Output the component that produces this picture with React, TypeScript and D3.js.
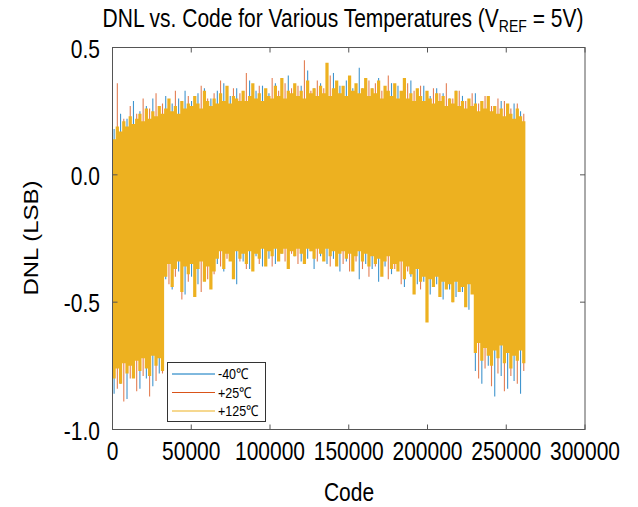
import React from "react";
import * as d3 from "d3";

// ---- data (DNL envelopes, LSB) ----
const CODE_MAX = 262143;
const yellowStep = 2048; // +125°C sampled every 2048 codes
const yellowHi = [
  0.14, 0.19, 0.17, 0.21, 0.19, 0.23, 0.20, 0.22,
  0.24, 0.21, 0.26, 0.22, 0.25, 0.23, 0.27, 0.24,
  0.26, 0.30, 0.25, 0.27, 0.24, 0.29, 0.26, 0.28,
  0.27, 0.31, 0.28, 0.26, 0.33, 0.29, 0.27, 0.30,
  0.28, 0.32, 0.29, 0.35, 0.28, 0.31, 0.30, 0.29,
  0.33, 0.29, 0.31, 0.36, 0.30, 0.32, 0.29, 0.34,
  0.31, 0.30, 0.35, 0.31, 0.38, 0.30, 0.33, 0.32,
  0.36, 0.31, 0.33, 0.30, 0.37, 0.32, 0.34, 0.31,
  0.35, 0.32, 0.44, 0.31, 0.34, 0.37, 0.32, 0.35,
  0.31, 0.39, 0.33, 0.36, 0.32, 0.34, 0.38, 0.31,
  0.34, 0.32, 0.37, 0.30, 0.35, 0.33, 0.31, 0.36,
  0.30, 0.33, 0.38, 0.30, 0.32, 0.29, 0.34, 0.31,
  0.29, 0.33, 0.30, 0.28, 0.32, 0.29, 0.31, 0.27,
  0.30, 0.28, 0.33, 0.27, 0.29, 0.26, 0.30, 0.27,
  0.28, 0.25, 0.29, 0.26, 0.31, 0.25, 0.27, 0.24,
  0.26, 0.23, 0.28, 0.24, 0.22, 0.26, 0.23, 0.21,
  0.22,
];
const yellowLo = [
  -0.80, -0.76, -0.82, -0.74, -0.78, -0.75, -0.80, -0.73,
  -0.77, -0.72, -0.76, -0.79, -0.71, -0.75, -0.72, -0.77,
  -0.40, -0.35, -0.44, -0.37, -0.34, -0.46, -0.36, -0.39,
  -0.35, -0.48, -0.37, -0.34, -0.42, -0.36, -0.45, -0.38,
  -0.33, -0.30, -0.37, -0.31, -0.34, -0.41, -0.30, -0.33,
  -0.31, -0.35, -0.30, -0.38, -0.31, -0.33, -0.29, -0.36,
  -0.30, -0.32, -0.29, -0.34, -0.31, -0.29, -0.37, -0.30,
  -0.32, -0.29, -0.31, -0.35, -0.29, -0.30, -0.33, -0.29,
  -0.31, -0.34, -0.29, -0.32, -0.30, -0.36, -0.31, -0.30,
  -0.33, -0.31, -0.38, -0.32, -0.30, -0.34, -0.31, -0.36,
  -0.32, -0.35, -0.33, -0.40, -0.34, -0.32, -0.37, -0.35,
  -0.38, -0.34, -0.41, -0.36, -0.39, -0.47, -0.37, -0.42,
  -0.40, -0.58, -0.41, -0.44, -0.40, -0.48, -0.42, -0.45,
  -0.43, -0.50, -0.42, -0.46, -0.44, -0.52, -0.43, -0.47,
  -0.70, -0.66, -0.73, -0.68, -0.71, -0.75, -0.69, -0.72,
  -0.67, -0.74, -0.70, -0.76, -0.71, -0.73, -0.69, -0.74,
  -0.72,
];
const otherStep = 4096; // -40°C and +25°C spikes sampled every 4096 codes
const blueOffset = 1024;
const orangeOffset = 3072;
const blueHi = [
  0.18, 0.24, 0.22, 0.29, 0.25, 0.27, 0.30, 0.26,
  0.31, 0.28, 0.30, 0.33, 0.29, 0.32, 0.34, 0.30,
  0.33, 0.36, 0.31, 0.34, 0.32, 0.37, 0.33, 0.35,
  0.32, 0.36, 0.34, 0.39, 0.33, 0.35, 0.41, 0.34,
  0.36, 0.33, 0.40, 0.35, 0.37, 0.34, 0.42, 0.36,
  0.34, 0.38, 0.33, 0.36, 0.35, 0.32, 0.37, 0.33,
  0.35, 0.31, 0.34, 0.32, 0.30, 0.33, 0.31, 0.29,
  0.32, 0.28, 0.30, 0.27, 0.29, 0.26, 0.28, 0.25,
];
const blueLo = [
  -0.86, -0.82, -0.88, -0.79, -0.84, -0.80, -0.83, -0.78,
  -0.41, -0.45, -0.38, -0.47, -0.40, -0.43, -0.39, -0.44,
  -0.35, -0.38, -0.33, -0.43, -0.34, -0.37, -0.32, -0.36,
  -0.33, -0.35, -0.31, -0.36, -0.32, -0.34, -0.33, -0.37,
  -0.32, -0.35, -0.33, -0.38, -0.34, -0.36, -0.41, -0.35,
  -0.37, -0.42, -0.36, -0.39, -0.37, -0.44, -0.40, -0.43,
  -0.42, -0.47, -0.43, -0.49, -0.45, -0.48, -0.46, -0.53,
  -0.77, -0.82, -0.75, -0.87, -0.79, -0.84, -0.81, -0.86,
];
const orangeHi = [
  0.36, 0.22, 0.27, 0.24, 0.30, 0.26, 0.32, 0.28,
  0.27, 0.33, 0.29, 0.31, 0.28, 0.35, 0.30, 0.32,
  0.37, 0.31, 0.34, 0.32, 0.40, 0.33, 0.35, 0.32,
  0.38, 0.33, 0.36, 0.34, 0.35, 0.45, 0.33, 0.37,
  0.34, 0.39, 0.35, 0.33, 0.38, 0.35, 0.34, 0.37,
  0.36, 0.33, 0.39, 0.34, 0.32, 0.36, 0.33, 0.35,
  0.31, 0.34, 0.32, 0.36, 0.30, 0.33, 0.29, 0.32,
  0.28, 0.31, 0.27, 0.30, 0.29, 0.26, 0.28, 0.24,
];
const orangeLo = [
  -0.84, -0.89, -0.80, -0.85, -0.79, -0.87, -0.81, -0.78,
  -0.43, -0.40, -0.49, -0.42, -0.38, -0.46, -0.41, -0.39,
  -0.36, -0.33, -0.39, -0.34, -0.37, -0.32, -0.35, -0.33,
  -0.36, -0.32, -0.34, -0.31, -0.35, -0.33, -0.30, -0.34,
  -0.33, -0.36, -0.32, -0.35, -0.38, -0.34, -0.37, -0.40,
  -0.36, -0.39, -0.41, -0.37, -0.43, -0.38, -0.40, -0.45,
  -0.44, -0.41, -0.47, -0.43, -0.50, -0.45, -0.48, -0.44,
  -0.80, -0.76, -0.83, -0.78, -0.85, -0.79, -0.82, -0.77,
];

const seriesNames = ["-40\u2103", "+25\u2103", "+125\u2103"];
const seriesColors = ["#0072BD", "#D95319", "#EDB120"];
const xTicks = [0, 50000, 100000, 150000, 200000, 250000, 300000];
const xTickLabels = ["0", "50000", "100000", "150000", "200000", "250000", "300000"];
const yTicks = [-1.0, -0.5, 0.0, 0.5];
const yTickLabels = ["-1.0", "-0.5", "0.0", "0.5"];

const FONT = "'Liberation Sans', Arial, sans-serif";
const SY = 1.2; // vertical stretch of the reference's text

export default function App() {
  const left = 112.5, right = 585, top = 47.5, bottom = 429.5;
  const x = d3.scaleLinear().domain([0, 300000]).range([left, right]);
  const y = d3.scaleLinear().domain([-1, 0.5]).range([bottom, top]);

  const yellowData = yellowHi.map((h, i) => ({
    code: Math.min(i * yellowStep, CODE_MAX),
    hi: h,
    lo: yellowLo[i],
  }));
  const area = d3
    .area<{ code: number; hi: number; lo: number }>()
    .x((d) => x(d.code))
    .y0((d) => y(d.lo))
    .y1((d) => y(d.hi))
    .curve(d3.curveStepAfter);

  const spikes = (hi: number[], lo: number[], off: number) =>
    hi.map((h, i) => ({ code: i * otherStep + off, hi: h, lo: lo[i] }));
  const blue = spikes(blueHi, blueLo, blueOffset);
  const orange = spikes(orangeHi, orangeLo, orangeOffset);

  const axisColor = "#555";
  const tickLen = 5;

  const stretchText = (
    tx: number,
    ty: number,
    content: React.ReactNode,
    size: number,
    anchor: string
  ) => (
    <text
      transform={`translate(${tx},${ty}) scale(1,${SY})`}
      fontSize={size}
      fontFamily={FONT}
      textAnchor={anchor as any}
      fill="#000"
    >
      {content}
    </text>
  );

  return (
    <svg
      width={638}
      height={507}
      style={{ position: "absolute", left: 0, top: 0, background: "#fff" }}
    >
      <rect x={0} y={0} width={638} height={507} fill="#fff" />
      {/* series */}
      <g>
        {blue.map((d, i) => (
          <line
            key={"b" + i}
            x1={x(d.code)}
            x2={x(d.code)}
            y1={y(d.lo)}
            y2={y(d.hi)}
            stroke={seriesColors[0]}
            strokeOpacity={0.75}
            strokeWidth={1.1}
          />
        ))}
        {orange.map((d, i) => (
          <line
            key={"o" + i}
            x1={x(d.code)}
            x2={x(d.code)}
            y1={y(d.lo)}
            y2={y(d.hi)}
            stroke={seriesColors[1]}
            strokeOpacity={0.75}
            strokeWidth={1.1}
          />
        ))}
        <path d={area(yellowData) || ""} fill={seriesColors[2]} stroke="none" />
      </g>

      {/* axes box */}
      <rect
        x={left}
        y={top}
        width={right - left}
        height={bottom - top}
        fill="none"
        stroke={axisColor}
        strokeWidth={1}
      />
      {xTicks.map((t, i) => (
        <g key={"xt" + i}>
          <line x1={x(t)} x2={x(t)} y1={bottom} y2={bottom - tickLen} stroke={axisColor} />
          <line x1={x(t)} x2={x(t)} y1={top} y2={top + tickLen} stroke={axisColor} />
          {stretchText(x(t), 460, xTickLabels[i], 21, "middle")}
        </g>
      ))}
      {yTicks.map((t, i) => (
        <g key={"yt" + i}>
          <line x1={left} x2={left + tickLen} y1={y(t)} y2={y(t)} stroke={axisColor} />
          <line x1={right} x2={right - tickLen} y1={y(t)} y2={y(t)} stroke={axisColor} />
          {stretchText(100, y(t) + 10, yTickLabels[i], 21, "end")}
        </g>
      ))}

      {/* title */}
      {stretchText(
        343,
        27,
        <>
          <tspan>DNL vs. Code for Various Temperatures (V</tspan>
          <tspan fontSize={14} dy={4}>REF</tspan>
          <tspan dy={-4}> = 5V)</tspan>
        </>,
        21,
        "middle"
      )}
      {/* axis labels */}
      {stretchText(349, 501, "Code", 21, "middle")}
      <text
        transform={`translate(38,238) rotate(-90) scale(${SY},1)`}
        fontSize={20}
        fontFamily={FONT}
        textAnchor="middle"
        fill="#000"
      >
        DNL (LSB)
      </text>

      {/* legend */}
      <rect x={167.5} y={362.5} width={98} height={59} fill="#fff" stroke="#333" strokeWidth={1} />
      {seriesNames.map((n, i) => {
        const ly = 374 + i * 18.5;
        return (
          <g key={"lg" + i}>
            <line x1={172} x2={215} y1={ly} y2={ly} stroke={seriesColors[i]} strokeWidth={1} />
            {stretchText(218, ly + 5, n, 12.5, "start")}
          </g>
        );
      })}
    </svg>
  );
}
